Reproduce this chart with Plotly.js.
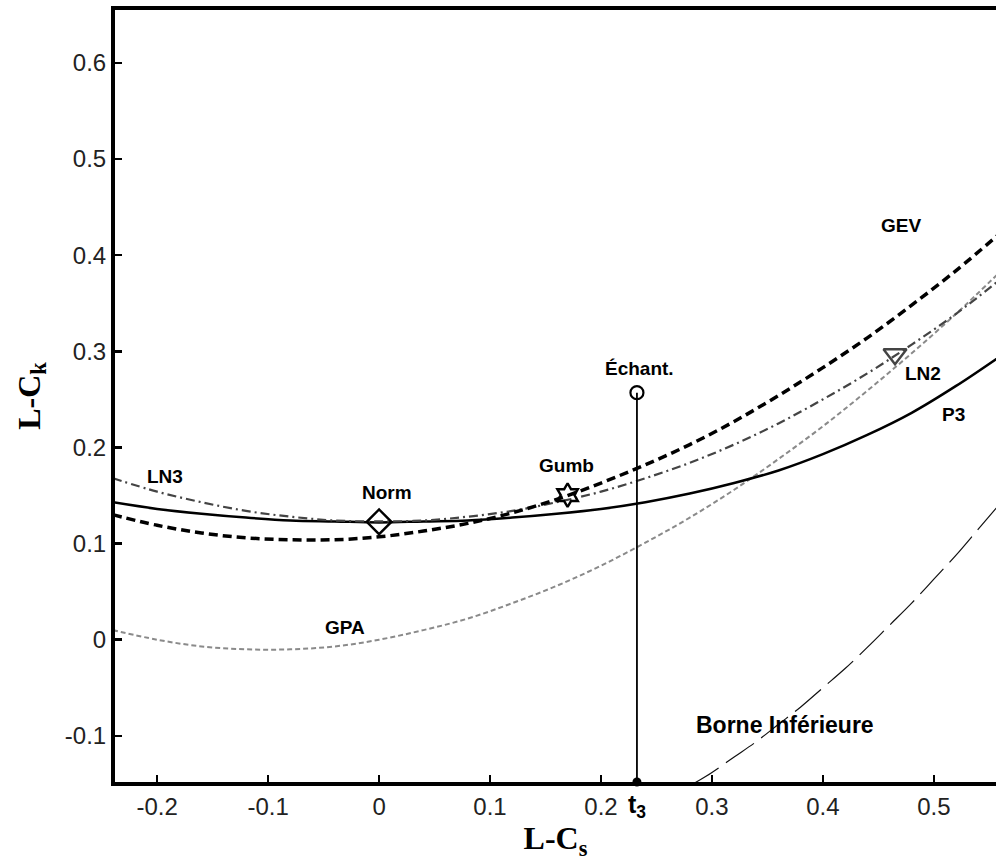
<!DOCTYPE html>
<html><head><meta charset="utf-8">
<script src="https://cdn.plot.ly/plotly-3.0.1.min.js"></script>
<style>html,body{margin:0;padding:0;background:#fff}</style>
</head><body><div id="chart" style="width:996px;height:865px"></div>
<script>
// L-skewness grid (x) and L-kurtosis values
const t3Grid = [-0.24,-0.20,-0.16,-0.12,-0.08,-0.04,0,0.04,0.08,0.12,0.16,0.20,0.24,0.28,0.32,0.36,0.40,0.44,0.48,0.52,0.56];
const gevVals = [0.130,0.119,0.111,0.106,0.104,0.104,0.107,0.113,0.121,0.132,0.146,0.163,0.182,0.203,0.227,0.254,0.283,0.314,0.348,0.384,0.423];
const ln3Vals = [0.168,0.154,0.143,0.134,0.128,0.124,0.123,0.124,0.128,0.134,0.143,0.154,0.168,0.184,0.203,0.225,0.250,0.277,0.307,0.339,0.375];
const p3Vals  = [0.143,0.136,0.131,0.127,0.124,0.123,0.122,0.123,0.124,0.127,0.131,0.136,0.143,0.152,0.163,0.176,0.193,0.213,0.236,0.264,0.295];
const gpaVals = [0.010,0.000,-0.007,-0.010,-0.010,-0.007,0.000,0.010,0.022,0.038,0.056,0.077,0.101,0.127,0.156,0.188,0.222,0.259,0.298,0.339,0.383];
const boundX = [0.28,0.30,0.32,0.34,0.36,0.38,0.40,0.42,0.44,0.46,0.48,0.50,0.52,0.54,0.56];
const boundY = [-0.152,-0.138,-0.122,-0.106,-0.088,-0.070,-0.050,-0.030,-0.008,0.015,0.038,0.063,0.088,0.115,0.142];
// points
const normPt = [0.0, 0.1226];
const gumbPt = [0.1699, 0.1504];
const ln2Pt = [0.465, 0.297];
const sampleT3 = 0.2324;
const sampleT4 = 0.257;
// ticks
const xTickVals = [-0.2,-0.1,0,0.1,0.2,0.3,0.4,0.5];
const xTickText = ['-0.2','-0.1','0','0.1','0.2','0.3','0.4','0.5'];
const yTickVals = [-0.1,0,0.1,0.2,0.3,0.4,0.5,0.6];
const yTickText = ['-0.1','0','0.1','0.2','0.3','0.4','0.5','0.6'];

const traces = [
  {x:boundX, y:boundY, mode:'lines', line:{color:'#111', width:1.2, dash:'34px,9px', shape:'spline'}},
  {x:t3Grid, y:gpaVals, mode:'lines', line:{color:'#8a8a8a', width:2, dash:'5px,3px', shape:'spline'}},
  {x:t3Grid, y:p3Vals, mode:'lines', line:{color:'#000', width:2.5, shape:'spline'}},
  {x:t3Grid, y:ln3Vals, mode:'lines', line:{color:'#444', width:2.2, dash:'9px,4px,2px,4px', shape:'spline'}},
  {x:t3Grid, y:gevVals, mode:'lines', line:{color:'#000', width:3.5, dash:'9px,5px', shape:'spline'}},
  {x:[sampleT3, sampleT3], y:[-0.148, sampleT4], mode:'lines', line:{color:'#000', width:1.8}},
  {x:[sampleT3], y:[sampleT4], mode:'markers', marker:{symbol:'circle-open', size:13, color:'#000', line:{width:2.2, color:'#000'}}},
  {x:[sampleT3], y:[-0.148], mode:'markers', marker:{symbol:'circle', size:9, color:'#000'}, cliponaxis:false},
  {x:[normPt[0]], y:[normPt[1]], mode:'markers', marker:{symbol:'diamond-open', size:19, color:'#000', line:{width:2.4, color:'#000'}}},
  {x:[gumbPt[0]], y:[gumbPt[1]], mode:'markers', marker:{symbol:'hexagram-open', size:18, color:'#000', line:{width:2.4, color:'#000'}}},
  {x:[ln2Pt[0]], y:[ln2Pt[1]], mode:'markers', marker:{symbol:'triangle-down-open', size:20, color:'#444', line:{width:2.4, color:'#444'}}}
];

const lab = (x, y, t, size) => ({x:x, y:y, xref:'x', yref:'y', text:t, showarrow:false,
  font:{family:'Liberation Sans, Arial, sans-serif', size:size||19, color:'#000', weight:'bold'}});

const layout = {
  width:996, height:865,
  margin:{l:115, r:0, t:10, b:83},
  paper_bgcolor:'#fff', plot_bgcolor:'#fff',
  showlegend:false,
  xaxis:{range:[-0.238, 0.556], tickvals:xTickVals, ticktext:xTickText, ticks:'inside', ticklen:7, tickwidth:2.5, tickcolor:'#000',
    showline:true, linecolor:'#000', linewidth:4, mirror:true, showgrid:false, zeroline:false,
    tickfont:{family:'Liberation Sans, Arial, sans-serif', size:24, color:'#222'},
    title:{text:'L-C<sub>s</sub>', font:{family:'Liberation Serif, Times New Roman, serif', size:32, color:'#000', weight:'bold'}, standoff:2}},
  yaxis:{range:[-0.148, 0.655], tickvals:yTickVals, ticktext:yTickText, ticks:'inside', ticklen:7, tickwidth:2.5, tickcolor:'#000',
    showline:true, linecolor:'#000', linewidth:4, mirror:false, showgrid:false, zeroline:false,
    tickfont:{family:'Liberation Sans, Arial, sans-serif', size:24, color:'#222'},
    title:{text:'L-C<sub>k</sub>', font:{family:'Liberation Serif, Times New Roman, serif', size:32, color:'#000', weight:'bold'}, standoff:16}},
  annotations:[
    lab(0.470, 0.431, 'GEV'),
    lab(0.490, 0.277, 'LN2'),
    lab(0.518, 0.234, 'P3'),
    lab(0.235, 0.282, 'Échant.'),
    lab(0.169, 0.181, 'Gumb'),
    lab(0.007, 0.153, 'Norm'),
    lab(-0.193, 0.170, 'LN3'),
    lab(-0.031, 0.013, 'GPA'),
    lab(0.366, -0.089, 'Borne Inférieure', 23),
    {x:sampleT3, y:0, xref:'x', yref:'paper', yanchor:'top', yshift:-6, text:'t<sub>3</sub>', showarrow:false,
     font:{family:'Liberation Sans, Arial, sans-serif', size:25, color:'#000', weight:'bold'}}
  ]
};
Plotly.newPlot('chart', traces, layout, {displayModeBar:false, staticPlot:true});
</script>
</body></html>
